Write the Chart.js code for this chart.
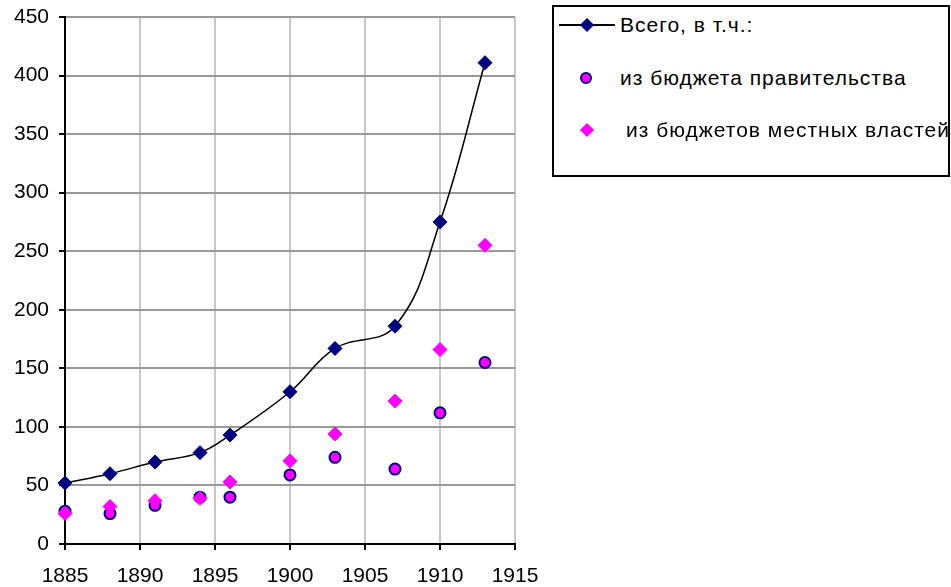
<!DOCTYPE html>
<html>
<head>
<meta charset="utf-8">
<script src="https://cdn.jsdelivr.net/npm/chart.js@4"></script>
<style>
  body { margin: 0; background: #fff; font-family: "Liberation Sans", Arial, sans-serif; }
  #wrap { position: relative; width: 951px; height: 587px; }
  #legend {
    position: absolute; left: 552px; top: 5px; width: 394px; height: 168px;
    border: 2px solid #000; background: #fff; box-sizing: content-box;
  }
  .row { position: absolute; left: 0; height: 24px; font-size: 21px; line-height: 24px; letter-spacing: 1px; color: #000; white-space: nowrap; }
  .row span.txt { position: absolute; top: 0; }
  .ln { position: absolute; left: 5px; top: 11px; width: 56px; height: 2px; background: #000; }
  .dia { position: absolute; width: 10px; height: 10px; transform: rotate(45deg); }
  .circ { position: absolute; width: 8px; height: 8px; border-radius: 50%; border: 2px solid #000080; background: #ff00ff; }
</style>
</head>
<body>
<div id="wrap">
  <canvas id="graph" width="951" height="587"></canvas>
  <div id="legend">
    <div class="row" style="top:6px;"><div class="ln"></div><div class="dia" style="left:28px;top:7px;background:#000080;"></div><span class="txt" style="left:66px;">Всего, в т.ч.:</span></div>
    <div class="row" style="top:59px;"><div class="circ" style="left:26px;top:6px;"></div><span class="txt" style="left:66px;">из бюджета правительства</span></div>
    <div class="row" style="top:111px;"><div class="dia" style="left:28px;top:7px;background:#ff00ff;"></div><span class="txt" style="left:72px;">из бюджетов местных властей</span></div>
  </div>
</div>
<script>
const years = [1885, 1888, 1891, 1894, 1896, 1900, 1903, 1907, 1910, 1913];
const totalValues = [52, 60, 70, 78, 93, 130, 167, 186, 275, 411];
const governmentValues = [28, 26, 33, 40, 40, 59, 74, 64, 112, 155];
const localValues = [26, 32, 37, 39, 53, 71, 94, 122, 166, 255];
const seriesNames = ['Всего, в т.ч.:', 'из бюджета правительства', 'из бюджетов местных властей'];

const toPoints = vals => years.map((y, i) => ({ x: y, y: vals[i] }));

const ctx = document.getElementById('graph').getContext('2d');
const chart = new Chart(ctx, {
    type: 'line',
    data: {
        datasets: [{
            label: seriesNames[0],
            data: toPoints(totalValues),
            borderColor: '#000',
            borderWidth: 1.5,
            tension: 0.4,
            pointStyle: 'rectRot',
            pointRadius: 7,
            pointBackgroundColor: '#000080',
            pointBorderColor: '#000080',
            pointBorderWidth: 1,
            clip: false,
            order: 2
        }, {
            label: seriesNames[1],
            data: toPoints(governmentValues),
            showLine: false,
            pointStyle: 'circle',
            pointRadius: 5.5,
            pointBackgroundColor: '#ff00ff',
            pointBorderColor: '#000080',
            pointBorderWidth: 2,
            clip: false,
            order: 1
        }, {
            label: seriesNames[2],
            data: toPoints(localValues),
            showLine: false,
            pointStyle: 'rectRot',
            pointRadius: 7,
            pointBackgroundColor: '#ff00ff',
            pointBorderColor: '#ff00ff',
            pointBorderWidth: 1,
            clip: false,
            order: 0
        }]
    },
    options: {
        responsive: false,
        animation: false,
        layout: { padding: { left: 0, top: 17, right: 436, bottom: 0 } },
        plugins: {
            legend: { display: false },
            tooltip: { enabled: false }
        },
        scales: {
            x: {
                type: 'linear',
                min: 1885,
                max: 1915,
                afterFit: s => { s.height = 43; },
                ticks: {
                    stepSize: 5,
                    color: '#000',
                    padding: 14,
                    maxRotation: 0,
                    font: { family: 'Liberation Sans', size: 21 },
                    callback: v => String(v)
                },
                grid: { color: '#c8c8c8', lineWidth: 2, tickColor: '#000', tickLength: 6 },
                border: { color: '#000', width: 2 }
            },
            y: {
                min: 0,
                max: 450,
                afterFit: s => { s.width = 65; s.paddingTop = 0; s.paddingBottom = 0; },
                ticks: {
                    stepSize: 50,
                    color: '#000',
                    padding: 10,
                    font: { family: 'Liberation Sans', size: 21 }
                },
                grid: { color: '#999', lineWidth: 2, tickColor: '#000', tickLength: 6 },
                border: { color: '#000', width: 2 }
            }
        }
    }
});
</script>
</body>
</html>
